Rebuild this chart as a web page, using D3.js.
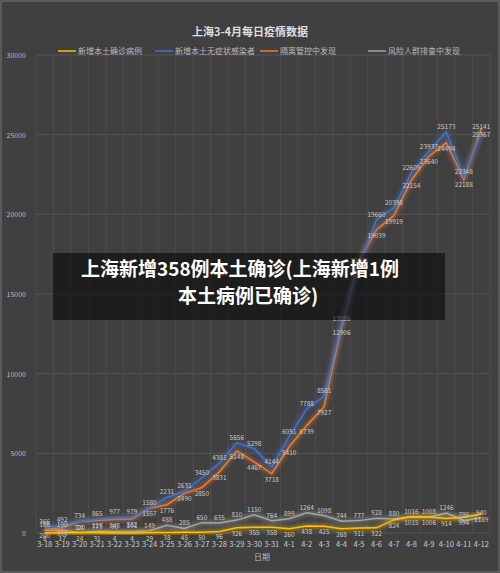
<!DOCTYPE html><html><head><meta charset="utf-8"><script src="https://cdn.jsdelivr.net/npm/d3@7"></script>
<style>body{margin:0;background:#404040}text{font-family:"Noto Sans CJK SC","Noto Sans",sans-serif}</style></head><body><svg id="c" width="500" height="573"></svg><script>
const dates=["3-18","3-19","3-20","3-21","3-22","3-23","3-24","3-25","3-26","3-27","3-28","3-29","3-30","3-31","4-1","4-2","4-3","4-4","4-5","4-6","4-7","4-8","4-9","4-10","4-11","4-12"];
const confirmed=[8,17,24,31,4,4,29,38,45,50,96,326,355,358,260,438,425,268,311,322,824,1015,1006,914,994,1189];
const asymptomatic=[366,492,734,865,977,979,1580,2231,2631,3450,4381,5656,5298,4144,6051,7788,8581,13086,16766,19660,20398,22609,23937,25173,22348,25141];
const quarantine=[200,330,720,779,843,882,1557,1776,2490,2850,3831,5148,4467,3718,5410,6739,7927,12906,17100,19039,19919,22154,23640,24494,22188,25367];
const screening=[166,190,24,117,90,101,149,488,285,650,635,810,1150,764,899,1264,1098,744,777,928,880,1016,1008,1246,786,940];
const yTicks=[0,5000,10000,15000,20000,25000,30000];
const series=[{name:"新增本土确诊病例",v:confirmed,c:"#ffc000"},{name:"新增本土无症状感染者",v:asymptomatic,c:"#4472c4"},{name:"隔离管控中发现",v:quarantine,c:"#ed7d31"},{name:"风险人群排查中发现",v:screening,c:"#a5a5a5"}];
const svg=d3.select("#c");
svg.append("rect").attr("x",1).attr("y",1).attr("width",498).attr("height",571).attr("fill","#404040").attr("stroke","#777");
const defs=svg.append("defs");
defs.append("filter").attr("id","g").append("feGaussianBlur").attr("stdDeviation",2);
const x=d3.scaleBand().domain(dates).range([36,490]);
const y=d3.scaleLinear().domain([0,30000]).range([533,55]);
const g=svg.append("g");
g.selectAll(".hg").data(yTicks).join("line").attr("x1",36).attr("x2",490).attr("y1",d=>y(d)).attr("y2",d=>y(d)).attr("stroke","#555");
g.selectAll(".vg").data(dates.concat([null])).join("line").attr("x1",(d,i)=>36+i*x.step()).attr("x2",(d,i)=>36+i*x.step()).attr("y1",55).attr("y2",533).attr("stroke","#4d4d4d");
g.selectAll(".yl").data(yTicks).join("text").attr("x",26).attr("y",d=>y(d)+3).attr("text-anchor","end").attr("font-size",7).attr("fill","#bbb").text(d=>d);
g.selectAll(".xl").data(dates).join("text").attr("x",d=>x(d)+x.bandwidth()/2).attr("y",547).attr("text-anchor","middle").attr("font-size",7.5).attr("fill","#ccc").text(d=>d);
svg.append("text").attr("x",262).attr("y",560).attr("text-anchor","middle").attr("font-size",8).attr("fill","#bbb").text("日期");
svg.append("text").attr("x",250).attr("y",36).attr("text-anchor","middle").attr("font-size",11).attr("font-weight","bold").attr("fill","#ddd").text("上海3-4月每日疫情数据");
const lx=[58,155,260,368];
series.forEach((s,i)=>{svg.append("line").attr("x1",lx[i]).attr("x2",lx[i]+18).attr("y1",51).attr("y2",51).attr("stroke",s.c).attr("stroke-width",1.5);
svg.append("text").attr("x",lx[i]+20).attr("y",54).attr("font-size",8).attr("fill","#bbb").text(s.name);});
const line=d3.line().x((d,i)=>x(dates[i])+x.bandwidth()/2).y(d=>y(d));
[3,0,2,1].forEach(k=>{const s=series[k];
svg.append("path").attr("d",line(s.v)).attr("fill","none").attr("stroke",s.c).attr("stroke-width",4).attr("opacity",0.5).attr("filter","url(#g)");
svg.append("path").attr("d",line(s.v)).attr("fill","none").attr("stroke",s.c).attr("stroke-width",1.5);});
series.forEach((s,k)=>{svg.append("g").selectAll("text").data(s.v).join("text").attr("x",(d,i)=>x(dates[i])+x.bandwidth()/2).attr("y",d=>y(d)+(k==2||k==0?8:-3)).attr("text-anchor","middle").attr("font-size",6.5).attr("fill","#c8c8c8").text(d=>d);});
svg.append("rect").attr("x",53).attr("y",253).attr("width",392).attr("height",67).attr("fill","rgba(0,0,0,0.55)");
svg.append("text").attr("x",240).attr("y",276).attr("text-anchor","middle").attr("font-size",19).attr("font-weight","bold").attr("fill","#fff").text("上海新增358例本土确诊(上海新增1例");
svg.append("text").attr("x",248).attr("y",303).attr("text-anchor","middle").attr("font-size",19).attr("font-weight","bold").attr("fill","#fff").text("本土病例已确诊)");
</script></body></html>
